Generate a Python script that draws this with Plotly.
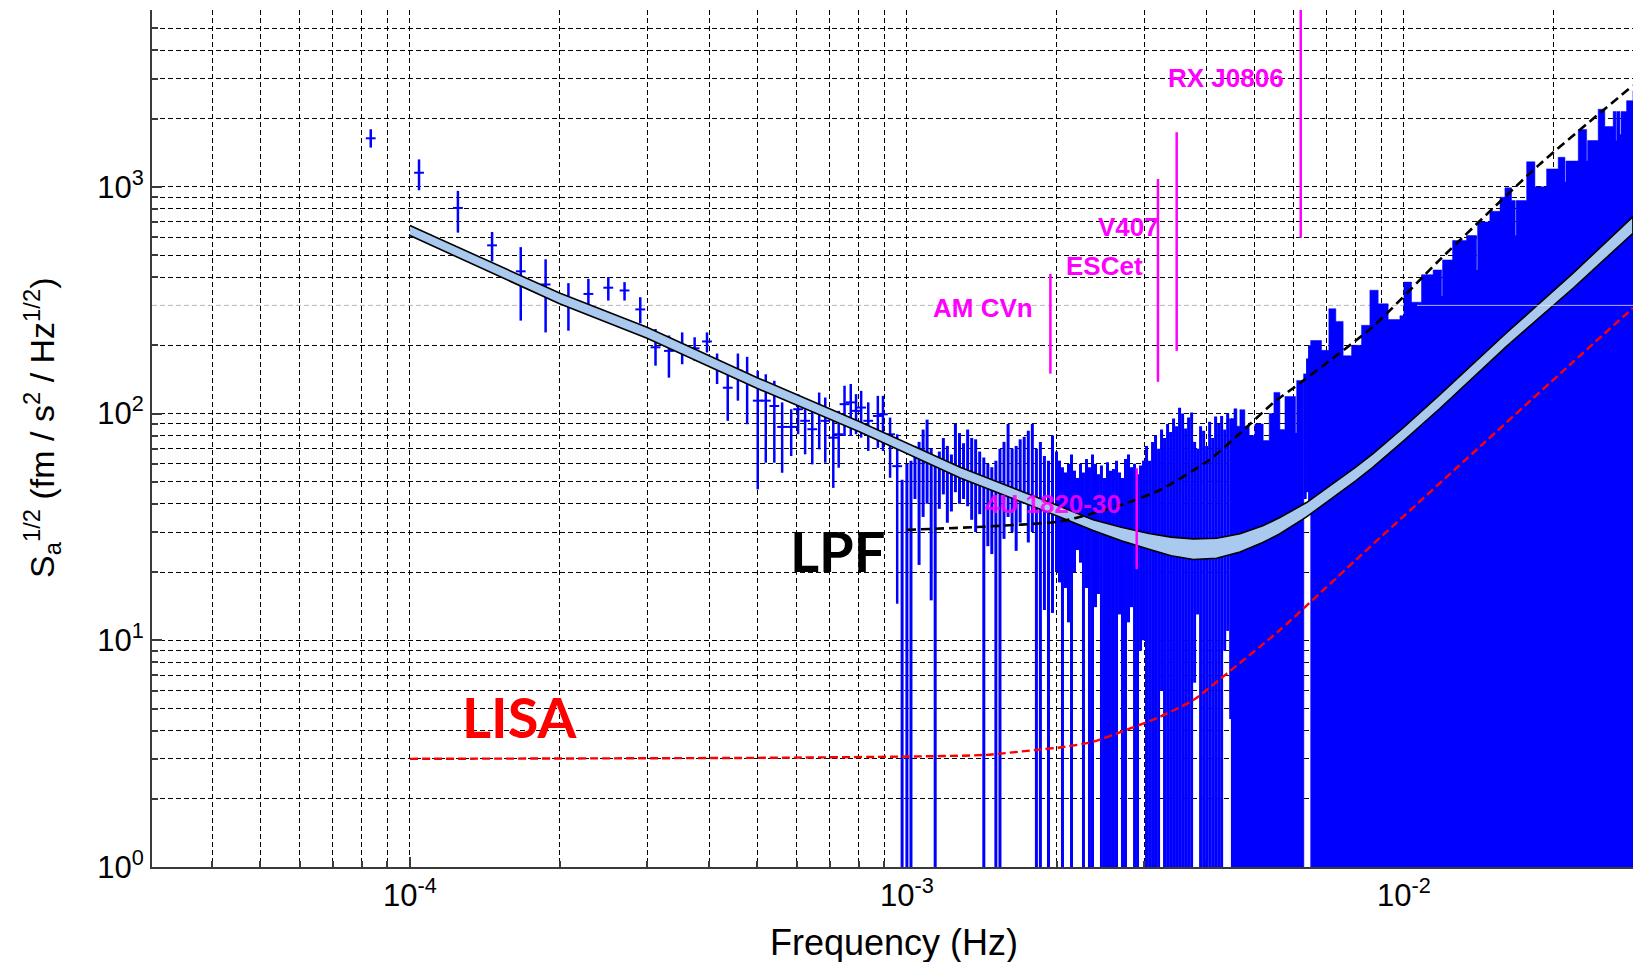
import plotly.graph_objects as go

# ---------------- data ----------------
# low-frequency averaged points: frequency (Hz), value, lower, upper
lf_freq = [8.34e-5, 1.043e-4, 1.249e-4, 1.463e-4, 1.671e-4, 1.875e-4, 2.084e-4, 2.286e-4, 2.507e-4, 2.703e-4,
           2.907e-4, 3.12e-4, 3.32e-4, 3.53e-4, 3.74e-4, 3.96e-4, 4.15e-4, 4.36e-4, 4.57e-4, 4.77e-4,
           5.01e-4, 5.2e-4, 5.41e-4, 5.61e-4, 5.85e-4, 6.04e-4, 6.24e-4, 6.45e-4, 6.66e-4, 6.85e-4,
           7.11e-4, 7.29e-4, 7.49e-4, 7.71e-4, 7.9e-4, 8.09e-4, 8.36e-4, 8.74e-4, 8.95e-4, 9.25e-4, 9.56e-4]
lf_val = [1637, 1154, 807, 552, 424, 371, 305, 337, 359, 349,
          288, 196, 189, 199, 194, 208, 160, 130, 154.5, 141,
          114, 114, 108, 87.3, 87.3, 104.5, 92.9, 85.3, 100.9, 92.9,
          78.3, 81, 110, 112, 102.8, 106.3, 92.9, 97.6, 99.3, 81, 58.6]
lf_lo = [1490, 966, 628, 469, 257, 228, 232, 303, 315, 315,
         250, 162.6, 144, 165, 171, 186, 135, 92.9, 114, 89.7,
         46.3, 60.7, 60.7, 54.8, 65, 81.1, 66.1, 59.7, 69.5, 60.7,
         47, 57.7, 79.6, 79.6, 81.1, 78.3, 68.4, 70.6, 68.4, 52.1, 14.5]
lf_hi = [1795, 1321, 960, 632, 542, 479, 376, 393, 400, 380,
         326, 236, 221, 228, 217, 228, 184, 149, 184, 178,
         154.5, 149, 139.5, 112, 104.5, 121.8, 104.5, 102.8, 123.8, 117.7,
         96, 102.8, 132.6, 135, 121.8, 125.9, 112, 119.7, 119.7, 96, 81]

# mid-frequency spectral bars: frequency (mHz), lower, upper
md_freq_mhz = [0.978, 1.000, 1.019, 1.038, 1.058, 1.078, 1.098, 1.119, 1.140, 1.162,
               1.184, 1.206, 1.229, 1.252, 1.276, 1.300, 1.325, 1.350, 1.375, 1.401,
               1.428, 1.455, 1.482, 1.510, 1.539, 1.568, 1.598, 1.628, 1.659, 1.690,
               1.722, 1.755, 1.788, 1.822, 1.856, 1.891, 1.927, 1.963, 2.000,
               2.028, 2.056, 2.085, 2.114, 2.144, 2.174, 2.204, 2.235, 2.266, 2.298,
               2.330, 2.363, 2.396, 2.429, 2.463, 2.498, 2.533, 2.568, 2.604, 2.641,
               2.678, 2.715, 2.753, 2.792, 2.831, 2.871, 2.911, 2.952, 2.993, 3.035,
               3.078, 3.121, 3.164, 3.209, 3.254, 3.299, 3.346, 3.393, 3.440, 3.488,
               3.537, 3.587, 3.637, 3.688, 3.740, 3.792, 3.845, 3.899, 3.954, 4.009,
               4.066, 4.123, 4.180, 4.239, 4.298, 4.359, 4.420, 4.482,
               6.33, 6.40, 6.46]
md_lo = [0.5, 0.5, 0.5, 42, 21.5, 35, 40, 15, 0.5, 38,
         44, 33, 37, 45, 40, 42, 39, 34, 30, 36,
         0.5, 26, 24, 0.5, 0.5, 28, 35, 30, 24.8, 33,
         40, 27, 30, 0.5, 0.5, 13.6, 0.5, 13.2, 20,
         18, 0.5, 17, 12, 0.5, 20, 25, 22, 0.5, 17,
         0.5, 0.5, 14, 16, 0.5, 0.5, 0.5, 0.5, 0.5, 0.5,
         13, 0.5, 0.5, 12, 14, 0.5, 0.5, 9, 10, 0.5,
         0.5, 0.5, 0.5, 0.5, 6, 0.5, 0.5, 0.5, 0.5, 0.5,
         0.5, 0.5, 0.5, 0.5, 0.5, 6.5, 13, 0.5, 0.5, 0.5,
         0.5, 0.5, 0.5, 0.5, 0.5, 9, 11, 4.5,
         42, 45, 40]
md_hi = [51, 60, 62, 72, 75, 85, 94, 70, 60, 68,
         78, 72, 66, 90, 82, 74, 85, 78, 77, 68,
         64, 60, 58, 62, 70, 75, 90, 70, 72, 77,
         79, 84, 90, 70, 75, 65, 62, 80, 68,
         62, 58, 55, 60, 66, 56, 52, 60, 55, 63,
         58, 66, 60, 54, 59, 52, 61, 56, 57, 62,
         55, 52, 63, 66, 58, 60, 54, 59, 62, 72,
         62, 75, 80, 70, 85, 78, 90, 83, 95, 88,
         106, 100, 86, 96, 101, 75, 70, 88, 84, 72,
         92, 78, 97, 90, 97.5, 85, 100, 95,
         150, 175, 200]

# high-frequency region, where the bars merge: upper envelope (mHz, value)
env1_freq_mhz = [4.487, 4.550, 4.613, 4.677, 4.786, 4.884, 5.014, 5.211, 5.358, 5.476,
                 5.630, 5.763, 5.970, 6.054, 6.085, 6.155, 6.291]
env1_top = [95, 105, 88, 104, 88, 80, 90, 76, 100, 124,
            85, 119, 119, 82, 140, 140, 150]
env2_freq_mhz = [6.484, 6.519, 6.828, 7.063, 7.296, 7.547, 7.847, 8.219, 8.542, 8.877,
                 9.298, 9.817, 10.0, 10.36, 10.85, 11.45, 11.91, 11.96, 12.53, 13.37,
                 14.01, 14.07, 14.89, 15.61, 15.97, 16.47, 16.75, 16.82, 17.66, 18.35,
                 19.37, 20.44, 21.09, 21.18, 22.43, 23.32, 23.42, 24.60, 25.37, 26.37,
                 26.71, 26.80, 27.21, 27.35, 28.06, 28.90, 29.6]
env2_top = [210, 210, 190, 290, 255, 180, 200, 245, 350, 305,
            260, 270, 380, 310, 410, 430, 330, 476, 580, 610,
            430, 700, 780, 900, 990, 870, 610, 870, 1290, 1000,
            1200, 1350, 1050, 1300, 1790, 1300, 1600, 2200, 1844, 2150,
            1600, 2150, 1700, 2150, 2400, 2650, 2650]

# LPF model band (Hz, lower, upper)
band_freq = [1.0e-4, 2.0e-4, 3.0e-4, 5.0e-4, 8.04e-4, 1.28e-3, 2.03e-3, 2.37e-3, 2.7e-3, 3.07e-3,
             3.4e-3, 3.77e-3, 4.2e-3, 4.68e-3, 5.2e-3, 5.63e-3, 6.37e-3, 7.2e-3, 8.0e-3, 8.67e-3,
             1.0e-2, 1.18e-2, 1.605e-2, 2.19e-2, 2.89e-2]
band_lo = [610, 305, 215, 129, 83, 52, 35, 30.5, 27.5, 25.2,
           23.6, 22.7, 23.0, 24.5, 27.0, 29.5, 35.0, 42.5, 50.5, 58,
           76, 105, 197, 357, 624]
band_hi = [675, 340, 240, 144, 92, 58, 39, 34, 31.5, 29.6,
           28.5, 28.0, 28.2, 29.5, 32.0, 34.8, 40.5, 49, 58, 66.5,
           87, 121, 226, 416, 739]

# LPF requirement (black dashed)
lpf_freq = [1.0e-3, 1.43e-3, 2.03e-3, 2.37e-3, 2.76e-3, 3.23e-3, 4.06e-3, 4.68e-3, 5.5e-3,
            6.06e-3, 8.67e-3, 1.18e-2, 1.87e-2, 2.89e-2]
lpf_val = [30.7, 31.7, 33.4, 36.3, 40.2, 46, 62.4, 81.9, 113, 132, 242, 476, 1250, 2800]

# LISA requirement (red dashed)
lisa_freq = [1.0e-4, 5.0e-4, 1.0e-3, 1.43e-3, 1.81e-3, 2.08e-3, 2.37e-3, 2.76e-3, 3.23e-3,
             3.77e-3, 4.41e-3, 5.63e-3, 8.0e-3, 1.377e-2, 2.19e-2, 2.89e-2]
lisa_val = [3.0, 3.03, 3.07, 3.12, 3.28, 3.39, 3.57, 4.02, 4.6, 5.45, 7.15, 11.1, 22.6, 67, 169, 292]

# verification binaries (magenta)
src_names = ["AM CVn", "4U 1820-30", "ESCet", "V407", "RX J0806"]
src_freq = [1.944e-3, 2.90e-3, 3.20e-3, 3.49e-3, 6.20e-3]
src_lo = [150, 20.6, 138, 189, 597]
src_hi = [413, 57.4, 1083, 1741, 9000]

x_tick_vals = [1e-4, 1e-3, 1e-2]
x_tick_text = ["10<sup>-4</sup>", "10<sup>-3</sup>", "10<sup>-2</sup>"]
y_tick_vals = [1, 10, 100, 1000]
y_tick_text = ["10<sup>0</sup>", "10<sup>1</sup>", "10<sup>2</sup>", "10<sup>3</sup>"]

# ---------------- styling ----------------
BLUE = "#0000ff"
MAGENTA = "#ff00ff"
BAND_FILL = "#a9c9ee"
AXIS_COL = "#3a3a3a"
FONT = "Liberation Sans, Arial, sans-serif"
BASE = 0.3  # below the visible axis: bars/fill run off the bottom
ODD_GRID = 300  # this grid line is lighter in the reference

x_minor = [k * 10.0 ** e for e in range(-5, -1) for k in range(2, 10)]
y_minor = [k * 10.0 ** e for e in range(0, 4) for k in range(2, 10) if k * 10 ** e != ODD_GRID]


def segments(xs, lo, hi):
    X, Y = [], []
    for x, l, h in zip(xs, lo, hi):
        X += [x, x, None]
        Y += [l, h, None]
    return X, Y


assert len(md_freq_mhz) == len(md_lo) == len(md_hi)
assert len(lf_freq) == len(lf_val) == len(lf_lo) == len(lf_hi)
assert len(env1_freq_mhz) == len(env1_top) and len(env2_freq_mhz) == len(env2_top)
assert len(band_freq) == len(band_lo) == len(band_hi)

fig = go.Figure()

# mid-frequency bars
md_f = [v * 1e-3 for v in md_freq_mhz]
mx, my = segments(md_f, md_lo, md_hi)
fig.add_trace(go.Scatter(x=mx, y=my, mode="lines", line=dict(color=BLUE, width=3),
                         hoverinfo="skip", showlegend=False))

# merged high-frequency bars
for ef, et in ((env1_freq_mhz, env1_top), (env2_freq_mhz, env2_top)):
    f = [v * 1e-3 for v in ef]
    fig.add_trace(go.Scatter(x=f + [f[-1], f[0]], y=et + [BASE, BASE], mode="lines",
                             line=dict(color=BLUE, width=0.5, shape="hv"), fill="toself",
                             fillcolor=BLUE, hoverinfo="skip", showlegend=False))

# low-frequency points with error bars
lx, ly = segments(lf_freq, lf_lo, lf_hi)
fig.add_trace(go.Scatter(x=lx, y=ly, mode="lines", line=dict(color=BLUE, width=2.5),
                         hoverinfo="skip", showlegend=False))
fig.add_trace(go.Scatter(x=lf_freq, y=lf_val, mode="markers",
                         marker=dict(symbol="line-ew", size=7, line=dict(color=BLUE, width=2)),
                         showlegend=False))

# LPF model band
fig.add_trace(go.Scatter(x=band_freq + band_freq[::-1], y=band_hi + band_lo[::-1], mode="lines",
                         fill="toself", fillcolor=BAND_FILL, line=dict(color="black", width=1.6),
                         hoverinfo="skip", showlegend=False))

# requirement curves
fig.add_trace(go.Scatter(x=lpf_freq, y=lpf_val, mode="lines",
                         line=dict(color="black", width=2.6, dash="9px,5px", shape="spline", smoothing=0.6),
                         showlegend=False))
fig.add_trace(go.Scatter(x=lisa_freq, y=lisa_val, mode="lines",
                         line=dict(color="#ff0000", width=2.4, dash="8px,4px", shape="spline", smoothing=0.6),
                         showlegend=False))

# sources
sx, sy = segments(src_freq, src_lo, src_hi)
fig.add_trace(go.Scatter(x=sx, y=sy, mode="lines", line=dict(color=MAGENTA, width=2.5),
                         showlegend=False))

label_pos = {  # (log10 f, log10 y) of the label centres
    "RX J0806": (-2.358, 3.480),
    "V407": (-2.555, 2.824),
    "ESCet": (-2.603, 2.651),
    "AM CVn": (-2.847, 2.466),
    "4U 1820-30": (-2.707, 1.601),
}
annotations = []
for name in src_names:
    lx_, ly_ = label_pos[name]
    annotations.append(dict(x=lx_, y=ly_, xref="x", yref="y", text="<b>%s</b>" % name,
                            showarrow=False, font=dict(family=FONT, size=26, color=MAGENTA),
                            opacity=0.85 if name == "4U 1820-30" else 1.0))

annotations.append(dict(x=-3.139, y=1.394, xref="x", yref="y", text="<b>LPF</b>", showarrow=False,
                        font=dict(family="Lato, Liberation Sans, sans-serif", size=56, color="black")))
annotations.append(dict(x=-3.779, y=0.662, xref="x", yref="y", text="<b>LISA</b>", showarrow=False,
                        font=dict(family="Lato, Liberation Sans, sans-serif", size=56, color="#ff0000")))

annotations.append(dict(x=0.5007, y=-0.088, xref="paper", yref="paper", text="Frequency (Hz)",
                        showarrow=False, font=dict(family=FONT, size=36, color="black"),
                        xanchor="center", yanchor="middle"))
annotations.append(dict(x=-0.0743, y=0.5134, xref="paper", yref="paper", textangle=-90,
                        text="S<sub>a</sub><sup>1/2</sup> (fm / s<sup>2</sup> / Hz<sup>1/2</sup>)",
                        showarrow=False, font=dict(family=FONT, size=34, color="black"),
                        xanchor="center", yanchor="middle"))

shapes = [
    dict(type="line", xref="paper", yref="y", x0=0, x1=1, y0=ODD_GRID, y1=ODD_GRID,
         line=dict(color="#b4b4b4", width=1, dash="5px,3px"), layer="below"),
    dict(type="line", xref="paper", yref="y", x0=(1417 - 152) / 1481, x1=1, y0=ODD_GRID,
         y1=ODD_GRID, line=dict(color="rgba(235,235,255,0.75)", width=1), layer="above"),
]

grid = dict(showgrid=True, gridcolor="black", griddash="5px,3px", gridwidth=1)
fig.update_layout(
    width=1633, height=962, autosize=False,
    margin=dict(l=152, r=0, t=10, b=95),
    paper_bgcolor="white", plot_bgcolor="white",
    showlegend=False,
    annotations=annotations, shapes=shapes,
    xaxis=dict(type="log", range=[-4.519, -1.539], tickvals=x_tick_vals, ticktext=x_tick_text,
               ticks="inside", ticklen=10, tickwidth=1.5, tickcolor=AXIS_COL,
               showline=True, linecolor=AXIS_COL, linewidth=2, layer="below traces",
               tickfont=dict(family=FONT, size=31, color="black"), zeroline=False,
               minor=dict(tickvals=x_minor, ticks="inside", ticklen=6, tickcolor=AXIS_COL, **grid),
               **grid),
    yaxis=dict(type="log", range=[0, 3.780], tickvals=y_tick_vals, ticktext=y_tick_text,
               ticks="inside", ticklen=10, tickwidth=1.5, tickcolor=AXIS_COL,
               showline=True, linecolor=AXIS_COL, linewidth=2, layer="below traces",
               tickfont=dict(family=FONT, size=31, color="black"), zeroline=False,
               minor=dict(tickvals=y_minor, ticks="inside", ticklen=6, tickcolor=AXIS_COL, **grid),
               **grid),
)

fig.write_html("out.html")
